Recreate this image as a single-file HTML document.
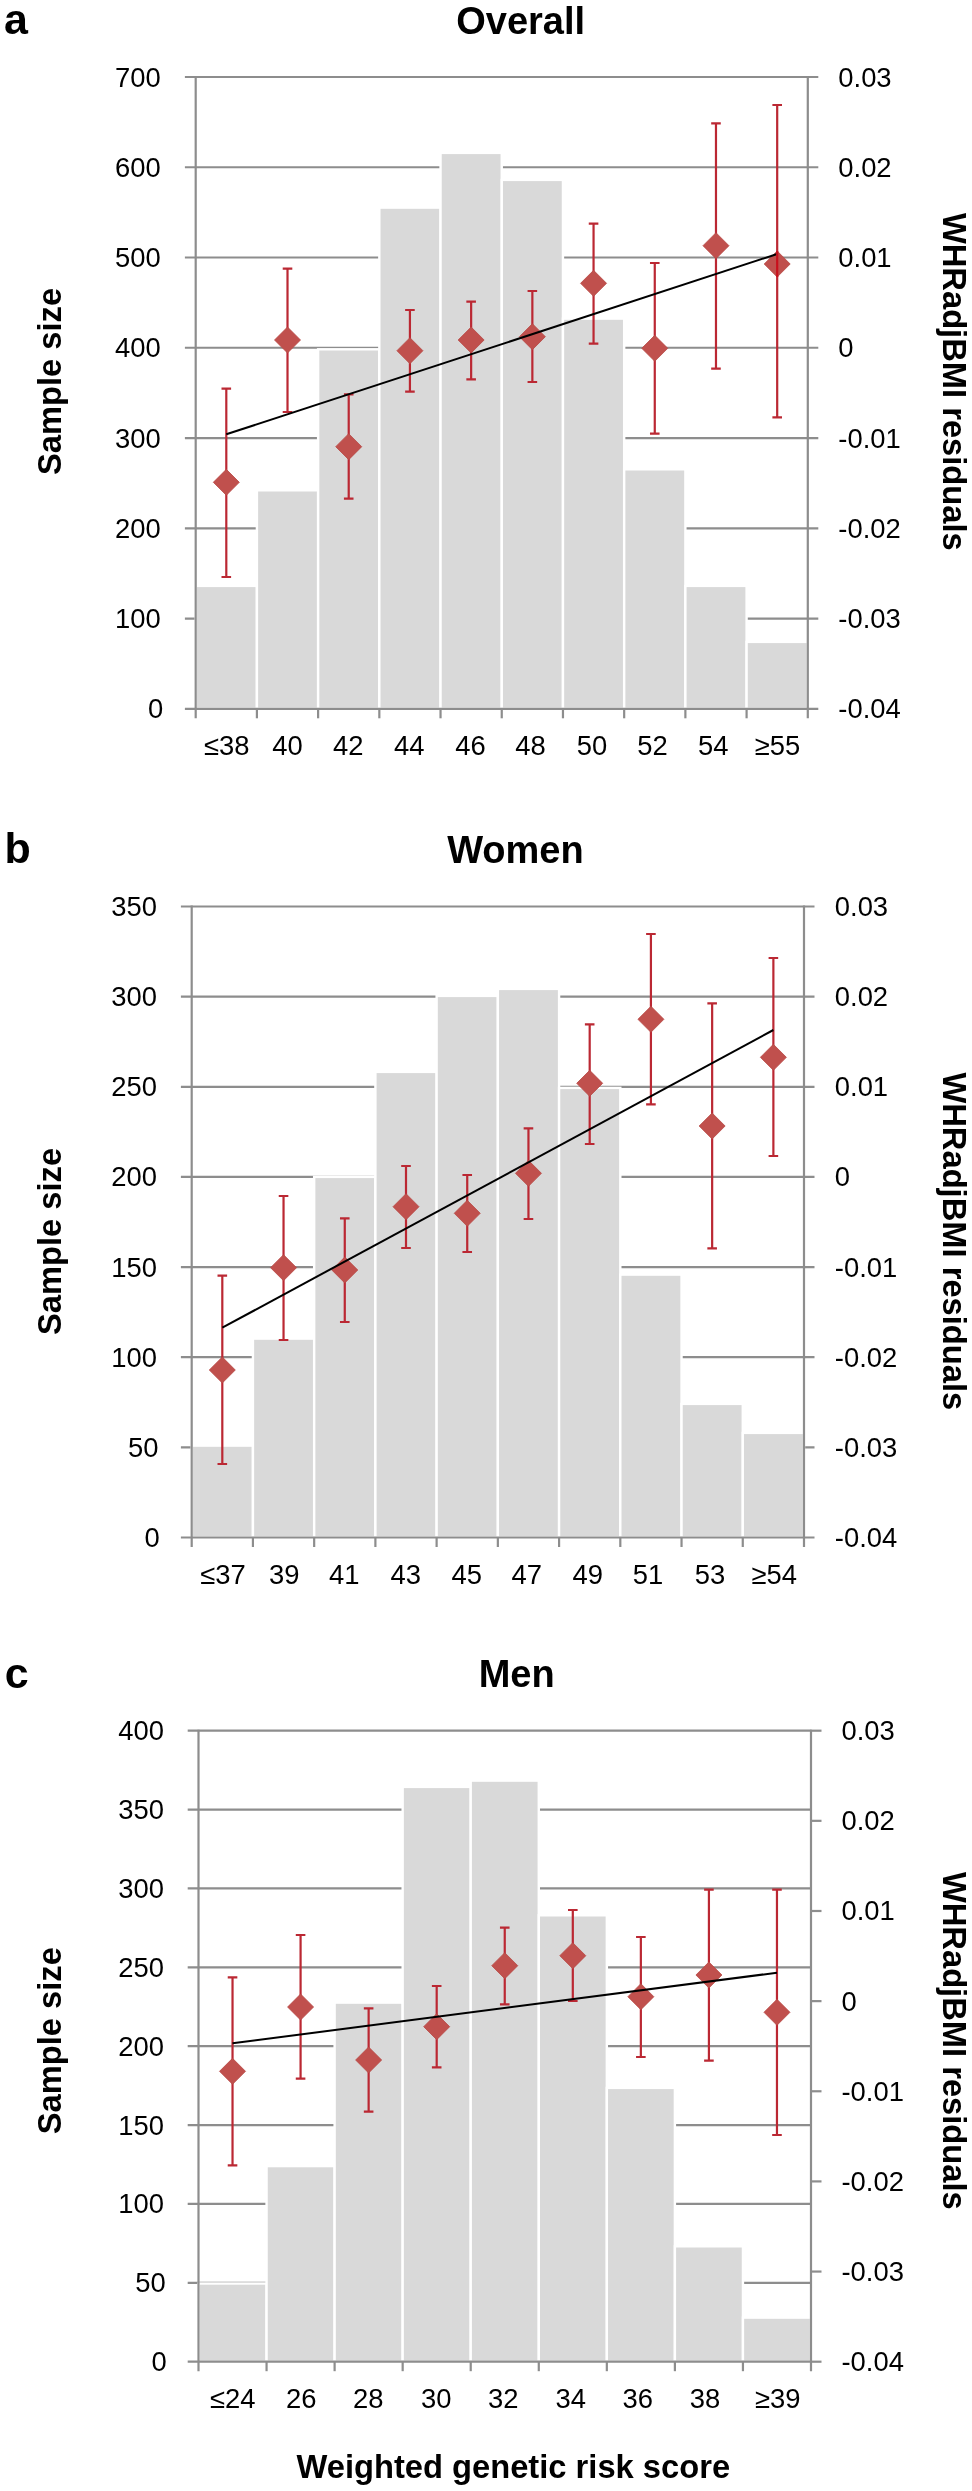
<!DOCTYPE html>
<html><head><meta charset="utf-8"><title>WHRadjBMI</title>
<style>
html,body{margin:0;padding:0;background:#fff;}
body{width:972px;height:2491px;overflow:hidden;}
svg{display:block;will-change:transform;}
text{font-family:"Liberation Sans", sans-serif;fill:#000;}
.tl{font-size:27.4px;}
.let{font-size:43px;font-weight:bold;}
.ttl{font-size:38px;font-weight:bold;}
.at{font-size:32.7px;font-weight:bold;}
.g{stroke:#8d8d8d;stroke-width:2.2;fill:none;}
.b{fill:#d9d9d9;stroke:#fff;stroke-width:2.4;}
.e{stroke:#bb2833;stroke-width:2.2;fill:none;}
.t{stroke:#000;stroke-width:2;}
.d{fill:#c0504d;stroke:#b84744;stroke-width:0.8;}
</style></head><body>
<svg width="972" height="2491" viewBox="0 0 972 2491">
<rect width="972" height="2491" fill="#fff"/>
<line x1="184.9" y1="618.54" x2="818.3" y2="618.54" class="g"/>
<line x1="184.9" y1="528.29" x2="818.3" y2="528.29" class="g"/>
<line x1="184.9" y1="438.03" x2="818.3" y2="438.03" class="g"/>
<line x1="184.9" y1="347.77" x2="818.3" y2="347.77" class="g"/>
<line x1="184.9" y1="257.51" x2="818.3" y2="257.51" class="g"/>
<line x1="184.9" y1="167.26" x2="818.3" y2="167.26" class="g"/>
<line x1="184.9" y1="77" x2="818.3" y2="77" class="g"/>
<rect x="195.7" y="585.9" width="61.21" height="122.9" class="b"/>
<rect x="256.91" y="490.3" width="61.21" height="218.5" class="b"/>
<rect x="318.12" y="349.3" width="61.21" height="359.5" class="b"/>
<rect x="379.33" y="207.6" width="61.21" height="501.2" class="b"/>
<rect x="440.54" y="152.9" width="61.21" height="555.9" class="b"/>
<rect x="501.75" y="179.9" width="61.21" height="528.9" class="b"/>
<rect x="562.96" y="318.6" width="61.21" height="390.2" class="b"/>
<rect x="624.17" y="469.3" width="61.21" height="239.5" class="b"/>
<rect x="685.38" y="585.9" width="61.21" height="122.9" class="b"/>
<rect x="746.59" y="641.9" width="61.21" height="66.9" class="b"/>
<line x1="195.7" y1="76" x2="195.7" y2="718.3" class="g"/>
<line x1="807.8" y1="76" x2="807.8" y2="718.3" class="g"/>
<line x1="184.9" y1="708.8" x2="818.3" y2="708.8" class="g"/>
<line x1="256.91" y1="708.8" x2="256.91" y2="718.3" class="g"/>
<line x1="318.12" y1="708.8" x2="318.12" y2="718.3" class="g"/>
<line x1="379.33" y1="708.8" x2="379.33" y2="718.3" class="g"/>
<line x1="440.54" y1="708.8" x2="440.54" y2="718.3" class="g"/>
<line x1="501.75" y1="708.8" x2="501.75" y2="718.3" class="g"/>
<line x1="562.96" y1="708.8" x2="562.96" y2="718.3" class="g"/>
<line x1="624.17" y1="708.8" x2="624.17" y2="718.3" class="g"/>
<line x1="685.38" y1="708.8" x2="685.38" y2="718.3" class="g"/>
<line x1="746.59" y1="708.8" x2="746.59" y2="718.3" class="g"/>
<path d="M226.3 388.7V577M221.5 388.7H231.1M221.5 577H231.1" class="e"/>
<path d="M287.51 268.7V412M282.71 268.7H292.31M282.71 412H292.31" class="e"/>
<path d="M348.72 394.3V498.7M343.92 394.3H353.52M343.92 498.7H353.52" class="e"/>
<path d="M409.93 310V391.7M405.13 310H414.73M405.13 391.7H414.73" class="e"/>
<path d="M471.14 301.7V379.3M466.34 301.7H475.94M466.34 379.3H475.94" class="e"/>
<path d="M532.36 291V382M527.56 291H537.15M527.56 382H537.15" class="e"/>
<path d="M593.56 223.7V343.7M588.76 223.7H598.36M588.76 343.7H598.36" class="e"/>
<path d="M654.77 263V433.7M649.97 263H659.57M649.97 433.7H659.57" class="e"/>
<path d="M715.98 123.3V368.7M711.18 123.3H720.78M711.18 368.7H720.78" class="e"/>
<path d="M777.19 105V417.3M772.39 105H781.99M772.39 417.3H781.99" class="e"/>
<path d="M226.3 469.3L239.3 482.3L226.3 495.3L213.3 482.3Z" class="d"/>
<path d="M287.51 327L300.51 340L287.51 353L274.51 340Z" class="d"/>
<path d="M348.72 433.7L361.72 446.7L348.72 459.7L335.72 446.7Z" class="d"/>
<path d="M409.93 337.7L422.93 350.7L409.93 363.7L396.93 350.7Z" class="d"/>
<path d="M471.14 327L484.14 340L471.14 353L458.14 340Z" class="d"/>
<path d="M532.36 323.7L545.36 336.7L532.36 349.7L519.36 336.7Z" class="d"/>
<path d="M593.56 270.3L606.56 283.3L593.56 296.3L580.56 283.3Z" class="d"/>
<path d="M654.77 335.3L667.77 348.3L654.77 361.3L641.77 348.3Z" class="d"/>
<path d="M715.98 232.7L728.98 245.7L715.98 258.7L702.98 245.7Z" class="d"/>
<path d="M777.19 251L790.19 264L777.19 277L764.19 264Z" class="d"/>
<line x1="226.3" y1="434.3" x2="777.19" y2="254" class="t"/>
<path d="M777.19 251V277" class="e" style="stroke:#c8101c"/>
<text x="163.3" y="718.3" class="tl" text-anchor="end">0</text>
<text x="160.8" y="628.04" class="tl" text-anchor="end">100</text>
<text x="160.8" y="537.79" class="tl" text-anchor="end">200</text>
<text x="160.8" y="447.53" class="tl" text-anchor="end">300</text>
<text x="160.8" y="357.27" class="tl" text-anchor="end">400</text>
<text x="160.8" y="267.01" class="tl" text-anchor="end">500</text>
<text x="160.8" y="176.76" class="tl" text-anchor="end">600</text>
<text x="160.8" y="86.5" class="tl" text-anchor="end">700</text>
<text x="838.3" y="718.3" class="tl">-0.04</text>
<text x="838.3" y="628.04" class="tl">-0.03</text>
<text x="838.3" y="537.79" class="tl">-0.02</text>
<text x="838.3" y="447.53" class="tl">-0.01</text>
<text x="838.3" y="357.27" class="tl">0</text>
<text x="838.3" y="267.01" class="tl">0.01</text>
<text x="838.3" y="176.76" class="tl">0.02</text>
<text x="838.3" y="86.5" class="tl">0.03</text>
<text x="226.7" y="754.6" class="tl" text-anchor="middle">≤38</text>
<text x="287.5" y="754.6" class="tl" text-anchor="middle">40</text>
<text x="348.3" y="754.6" class="tl" text-anchor="middle">42</text>
<text x="409.2" y="754.6" class="tl" text-anchor="middle">44</text>
<text x="470.5" y="754.6" class="tl" text-anchor="middle">46</text>
<text x="530.5" y="754.6" class="tl" text-anchor="middle">48</text>
<text x="592" y="754.6" class="tl" text-anchor="middle">50</text>
<text x="652.5" y="754.6" class="tl" text-anchor="middle">52</text>
<text x="713.3" y="754.6" class="tl" text-anchor="middle">54</text>
<text x="777.5" y="754.6" class="tl" text-anchor="middle">≥55</text>
<text x="3.9" y="34.3" class="let">a</text>
<text x="456.2" y="34.3" class="ttl">Overall</text>
<text transform="translate(61.2 381.5) rotate(-90)" class="at" text-anchor="middle">Sample size</text>
<text transform="translate(942.7 212.9) rotate(90)" class="at">WHRadjBMI residuals</text>
<line x1="180.9" y1="1447.36" x2="814.5" y2="1447.36" class="g"/>
<line x1="180.9" y1="1357.21" x2="814.5" y2="1357.21" class="g"/>
<line x1="180.9" y1="1267.07" x2="814.5" y2="1267.07" class="g"/>
<line x1="180.9" y1="1176.93" x2="814.5" y2="1176.93" class="g"/>
<line x1="180.9" y1="1086.79" x2="814.5" y2="1086.79" class="g"/>
<line x1="180.9" y1="996.64" x2="814.5" y2="996.64" class="g"/>
<line x1="180.9" y1="906.5" x2="814.5" y2="906.5" class="g"/>
<rect x="191.7" y="1445.6" width="61.23" height="91.9" class="b"/>
<rect x="252.93" y="1338.6" width="61.23" height="198.9" class="b"/>
<rect x="314.16" y="1176.9" width="61.23" height="360.6" class="b"/>
<rect x="375.39" y="1071.9" width="61.23" height="465.6" class="b"/>
<rect x="436.62" y="995.9" width="61.23" height="541.6" class="b"/>
<rect x="497.85" y="988.9" width="61.23" height="548.6" class="b"/>
<rect x="559.08" y="1087.9" width="61.23" height="449.6" class="b"/>
<rect x="620.31" y="1274.6" width="61.23" height="262.9" class="b"/>
<rect x="681.54" y="1403.9" width="61.23" height="133.6" class="b"/>
<rect x="742.77" y="1432.9" width="61.23" height="104.6" class="b"/>
<line x1="191.7" y1="905.5" x2="191.7" y2="1547" class="g"/>
<line x1="804" y1="905.5" x2="804" y2="1547" class="g"/>
<line x1="180.9" y1="1537.5" x2="814.5" y2="1537.5" class="g"/>
<line x1="252.93" y1="1537.5" x2="252.93" y2="1547" class="g"/>
<line x1="314.16" y1="1537.5" x2="314.16" y2="1547" class="g"/>
<line x1="375.39" y1="1537.5" x2="375.39" y2="1547" class="g"/>
<line x1="436.62" y1="1537.5" x2="436.62" y2="1547" class="g"/>
<line x1="497.85" y1="1537.5" x2="497.85" y2="1547" class="g"/>
<line x1="559.08" y1="1537.5" x2="559.08" y2="1547" class="g"/>
<line x1="620.31" y1="1537.5" x2="620.31" y2="1547" class="g"/>
<line x1="681.54" y1="1537.5" x2="681.54" y2="1547" class="g"/>
<line x1="742.77" y1="1537.5" x2="742.77" y2="1547" class="g"/>
<path d="M222.31 1275.7V1464M217.51 1275.7H227.12M217.51 1464H227.12" class="e"/>
<path d="M283.54 1196V1340M278.74 1196H288.34M278.74 1340H288.34" class="e"/>
<path d="M344.77 1218.3V1322M339.97 1218.3H349.57M339.97 1322H349.57" class="e"/>
<path d="M406 1166V1248M401.2 1166H410.81M401.2 1248H410.81" class="e"/>
<path d="M467.23 1175V1252M462.43 1175H472.03M462.43 1252H472.03" class="e"/>
<path d="M528.46 1128.3V1219M523.66 1128.3H533.26M523.66 1219H533.26" class="e"/>
<path d="M589.69 1024.3V1144M584.89 1024.3H594.49M584.89 1144H594.49" class="e"/>
<path d="M650.92 934V1104.3M646.12 934H655.72M646.12 1104.3H655.72" class="e"/>
<path d="M712.15 1003.3V1248.3M707.36 1003.3H716.95M707.36 1248.3H716.95" class="e"/>
<path d="M773.38 958V1156M768.59 958H778.18M768.59 1156H778.18" class="e"/>
<path d="M222.31 1357L235.31 1370L222.31 1383L209.31 1370Z" class="d"/>
<path d="M283.54 1254.7L296.54 1267.7L283.54 1280.7L270.54 1267.7Z" class="d"/>
<path d="M344.77 1257L357.77 1270L344.77 1283L331.77 1270Z" class="d"/>
<path d="M406 1193.7L419 1206.7L406 1219.7L393 1206.7Z" class="d"/>
<path d="M467.23 1200.3L480.23 1213.3L467.23 1226.3L454.23 1213.3Z" class="d"/>
<path d="M528.46 1160.3L541.46 1173.3L528.46 1186.3L515.46 1173.3Z" class="d"/>
<path d="M589.69 1070.3L602.69 1083.3L589.69 1096.3L576.69 1083.3Z" class="d"/>
<path d="M650.92 1006.3L663.92 1019.3L650.92 1032.3L637.92 1019.3Z" class="d"/>
<path d="M712.15 1113L725.15 1126L712.15 1139L699.15 1126Z" class="d"/>
<path d="M773.38 1044.3L786.38 1057.3L773.38 1070.3L760.38 1057.3Z" class="d"/>
<line x1="222.31" y1="1327.7" x2="773.38" y2="1030" class="t"/>
<text x="159.75" y="1547" class="tl" text-anchor="end">0</text>
<text x="158.5" y="1456.86" class="tl" text-anchor="end">50</text>
<text x="157" y="1366.71" class="tl" text-anchor="end">100</text>
<text x="157" y="1276.57" class="tl" text-anchor="end">150</text>
<text x="157" y="1186.43" class="tl" text-anchor="end">200</text>
<text x="157" y="1096.29" class="tl" text-anchor="end">250</text>
<text x="157" y="1006.14" class="tl" text-anchor="end">300</text>
<text x="157" y="916" class="tl" text-anchor="end">350</text>
<text x="834.8" y="1547" class="tl">-0.04</text>
<text x="834.8" y="1456.86" class="tl">-0.03</text>
<text x="834.8" y="1366.71" class="tl">-0.02</text>
<text x="834.8" y="1276.57" class="tl">-0.01</text>
<text x="834.8" y="1186.43" class="tl">0</text>
<text x="834.8" y="1096.29" class="tl">0.01</text>
<text x="834.8" y="1006.14" class="tl">0.02</text>
<text x="834.8" y="916" class="tl">0.03</text>
<text x="223" y="1583.7" class="tl" text-anchor="middle">≤37</text>
<text x="284.2" y="1583.7" class="tl" text-anchor="middle">39</text>
<text x="344.2" y="1583.7" class="tl" text-anchor="middle">41</text>
<text x="405.8" y="1583.7" class="tl" text-anchor="middle">43</text>
<text x="466.7" y="1583.7" class="tl" text-anchor="middle">45</text>
<text x="526.8" y="1583.7" class="tl" text-anchor="middle">47</text>
<text x="587.8" y="1583.7" class="tl" text-anchor="middle">49</text>
<text x="648" y="1583.7" class="tl" text-anchor="middle">51</text>
<text x="710" y="1583.7" class="tl" text-anchor="middle">53</text>
<text x="774.2" y="1583.7" class="tl" text-anchor="middle">≥54</text>
<text x="4.5" y="863.3" class="let">b</text>
<text x="447.2" y="863.2" class="ttl">Women</text>
<text transform="translate(61.2 1241.5) rotate(-90)" class="at" text-anchor="middle">Sample size</text>
<text transform="translate(942.7 1072.4) rotate(90)" class="at">WHRadjBMI residuals</text>
<line x1="187.7" y1="2282.82" x2="811" y2="2282.82" class="g"/>
<line x1="187.7" y1="2203.95" x2="811" y2="2203.95" class="g"/>
<line x1="187.7" y1="2125.07" x2="811" y2="2125.07" class="g"/>
<line x1="187.7" y1="2046.2" x2="811" y2="2046.2" class="g"/>
<line x1="187.7" y1="1967.32" x2="811" y2="1967.32" class="g"/>
<line x1="187.7" y1="1888.45" x2="811" y2="1888.45" class="g"/>
<line x1="187.7" y1="1809.58" x2="811" y2="1809.58" class="g"/>
<line x1="187.7" y1="1730.7" x2="811" y2="1730.7" class="g"/>
<rect x="198.5" y="2283.5" width="68.06" height="78.2" class="b"/>
<rect x="266.56" y="2166.1" width="68.06" height="195.6" class="b"/>
<rect x="334.61" y="2002.6" width="68.06" height="359.1" class="b"/>
<rect x="402.67" y="1786.9" width="68.06" height="574.8" class="b"/>
<rect x="470.72" y="1780.6" width="68.06" height="581.1" class="b"/>
<rect x="538.78" y="1915.3" width="68.06" height="446.4" class="b"/>
<rect x="606.83" y="2087.9" width="68.06" height="273.8" class="b"/>
<rect x="674.89" y="2246.3" width="68.06" height="115.4" class="b"/>
<rect x="742.94" y="2317.6" width="68.06" height="44.1" class="b"/>
<line x1="198.5" y1="1729.7" x2="198.5" y2="2371.2" class="g"/>
<line x1="811" y1="1729.7" x2="811" y2="2371.2" class="g"/>
<line x1="187.7" y1="2361.7" x2="811" y2="2361.7" class="g"/>
<line x1="266.56" y1="2361.7" x2="266.56" y2="2371.2" class="g"/>
<line x1="334.61" y1="2361.7" x2="334.61" y2="2371.2" class="g"/>
<line x1="402.67" y1="2361.7" x2="402.67" y2="2371.2" class="g"/>
<line x1="470.72" y1="2361.7" x2="470.72" y2="2371.2" class="g"/>
<line x1="538.78" y1="2361.7" x2="538.78" y2="2371.2" class="g"/>
<line x1="606.83" y1="2361.7" x2="606.83" y2="2371.2" class="g"/>
<line x1="674.89" y1="2361.7" x2="674.89" y2="2371.2" class="g"/>
<line x1="742.94" y1="2361.7" x2="742.94" y2="2371.2" class="g"/>
<line x1="811" y1="2361.7" x2="821.5" y2="2361.7" class="g"/>
<line x1="811" y1="2271.56" x2="821.5" y2="2271.56" class="g"/>
<line x1="811" y1="2181.41" x2="821.5" y2="2181.41" class="g"/>
<line x1="811" y1="2091.27" x2="821.5" y2="2091.27" class="g"/>
<line x1="811" y1="2001.13" x2="821.5" y2="2001.13" class="g"/>
<line x1="811" y1="1910.99" x2="821.5" y2="1910.99" class="g"/>
<line x1="811" y1="1820.84" x2="821.5" y2="1820.84" class="g"/>
<line x1="811" y1="1730.7" x2="821.5" y2="1730.7" class="g"/>
<path d="M232.53 1977.3V2165.3M227.73 1977.3H237.33M227.73 2165.3H237.33" class="e"/>
<path d="M300.58 1935V2078.6M295.78 1935H305.38M295.78 2078.6H305.38" class="e"/>
<path d="M368.64 2008.3V2111.7M363.84 2008.3H373.44M363.84 2111.7H373.44" class="e"/>
<path d="M436.69 1986V2067.3M431.89 1986H441.49M431.89 2067.3H441.49" class="e"/>
<path d="M504.75 1927.7V2004.3M499.95 1927.7H509.55M499.95 2004.3H509.55" class="e"/>
<path d="M572.81 1910V2001M568.01 1910H577.61M568.01 2001H577.61" class="e"/>
<path d="M640.86 1937V2057M636.06 1937H645.66M636.06 2057H645.66" class="e"/>
<path d="M708.92 1889.7V2060.7M704.12 1889.7H713.72M704.12 2060.7H713.72" class="e"/>
<path d="M776.97 1889.7V2135M772.17 1889.7H781.77M772.17 2135H781.77" class="e"/>
<path d="M232.53 2058.3L245.53 2071.3L232.53 2084.3L219.53 2071.3Z" class="d"/>
<path d="M300.58 1994L313.58 2007L300.58 2020L287.58 2007Z" class="d"/>
<path d="M368.64 2047L381.64 2060L368.64 2073L355.64 2060Z" class="d"/>
<path d="M436.69 2013.7L449.69 2026.7L436.69 2039.7L423.69 2026.7Z" class="d"/>
<path d="M504.75 1952.7L517.75 1965.7L504.75 1978.7L491.75 1965.7Z" class="d"/>
<path d="M572.81 1942.7L585.81 1955.7L572.81 1968.7L559.81 1955.7Z" class="d"/>
<path d="M640.86 1983.7L653.86 1996.7L640.86 2009.7L627.86 1996.7Z" class="d"/>
<path d="M708.92 1962L721.92 1975L708.92 1988L695.92 1975Z" class="d"/>
<path d="M776.97 1999.3L789.97 2012.3L776.97 2025.3L763.97 2012.3Z" class="d"/>
<line x1="232.53" y1="2043.3" x2="776.97" y2="1972.7" class="t"/>
<text x="166.8" y="2371.2" class="tl" text-anchor="end">0</text>
<text x="165.8" y="2292.32" class="tl" text-anchor="end">50</text>
<text x="163.9" y="2213.45" class="tl" text-anchor="end">100</text>
<text x="163.9" y="2134.57" class="tl" text-anchor="end">150</text>
<text x="163.9" y="2055.7" class="tl" text-anchor="end">200</text>
<text x="163.9" y="1976.82" class="tl" text-anchor="end">250</text>
<text x="163.9" y="1897.95" class="tl" text-anchor="end">300</text>
<text x="163.9" y="1819.08" class="tl" text-anchor="end">350</text>
<text x="163.9" y="1740.2" class="tl" text-anchor="end">400</text>
<text x="841.5" y="2371.2" class="tl">-0.04</text>
<text x="841.5" y="2281.06" class="tl">-0.03</text>
<text x="841.5" y="2190.91" class="tl">-0.02</text>
<text x="841.5" y="2100.77" class="tl">-0.01</text>
<text x="841.5" y="2010.63" class="tl">0</text>
<text x="841.5" y="1920.49" class="tl">0.01</text>
<text x="841.5" y="1830.34" class="tl">0.02</text>
<text x="841.5" y="1740.2" class="tl">0.03</text>
<text x="232.8" y="2407.6" class="tl" text-anchor="middle">≤24</text>
<text x="301.3" y="2407.6" class="tl" text-anchor="middle">26</text>
<text x="368.3" y="2407.6" class="tl" text-anchor="middle">28</text>
<text x="436.2" y="2407.6" class="tl" text-anchor="middle">30</text>
<text x="503.3" y="2407.6" class="tl" text-anchor="middle">32</text>
<text x="570.8" y="2407.6" class="tl" text-anchor="middle">34</text>
<text x="637.8" y="2407.6" class="tl" text-anchor="middle">36</text>
<text x="705" y="2407.6" class="tl" text-anchor="middle">38</text>
<text x="777.7" y="2407.6" class="tl" text-anchor="middle">≥39</text>
<text x="4.7" y="1687.8" class="let">c</text>
<text x="478.7" y="1686.9" class="ttl">Men</text>
<text transform="translate(61.2 2040.7) rotate(-90)" class="at" text-anchor="middle">Sample size</text>
<text transform="translate(942.7 1871.9) rotate(90)" class="at">WHRadjBMI residuals</text>
<text x="296.5" y="2477.5" class="at">Weighted genetic risk score</text>
</svg>
</body></html>
